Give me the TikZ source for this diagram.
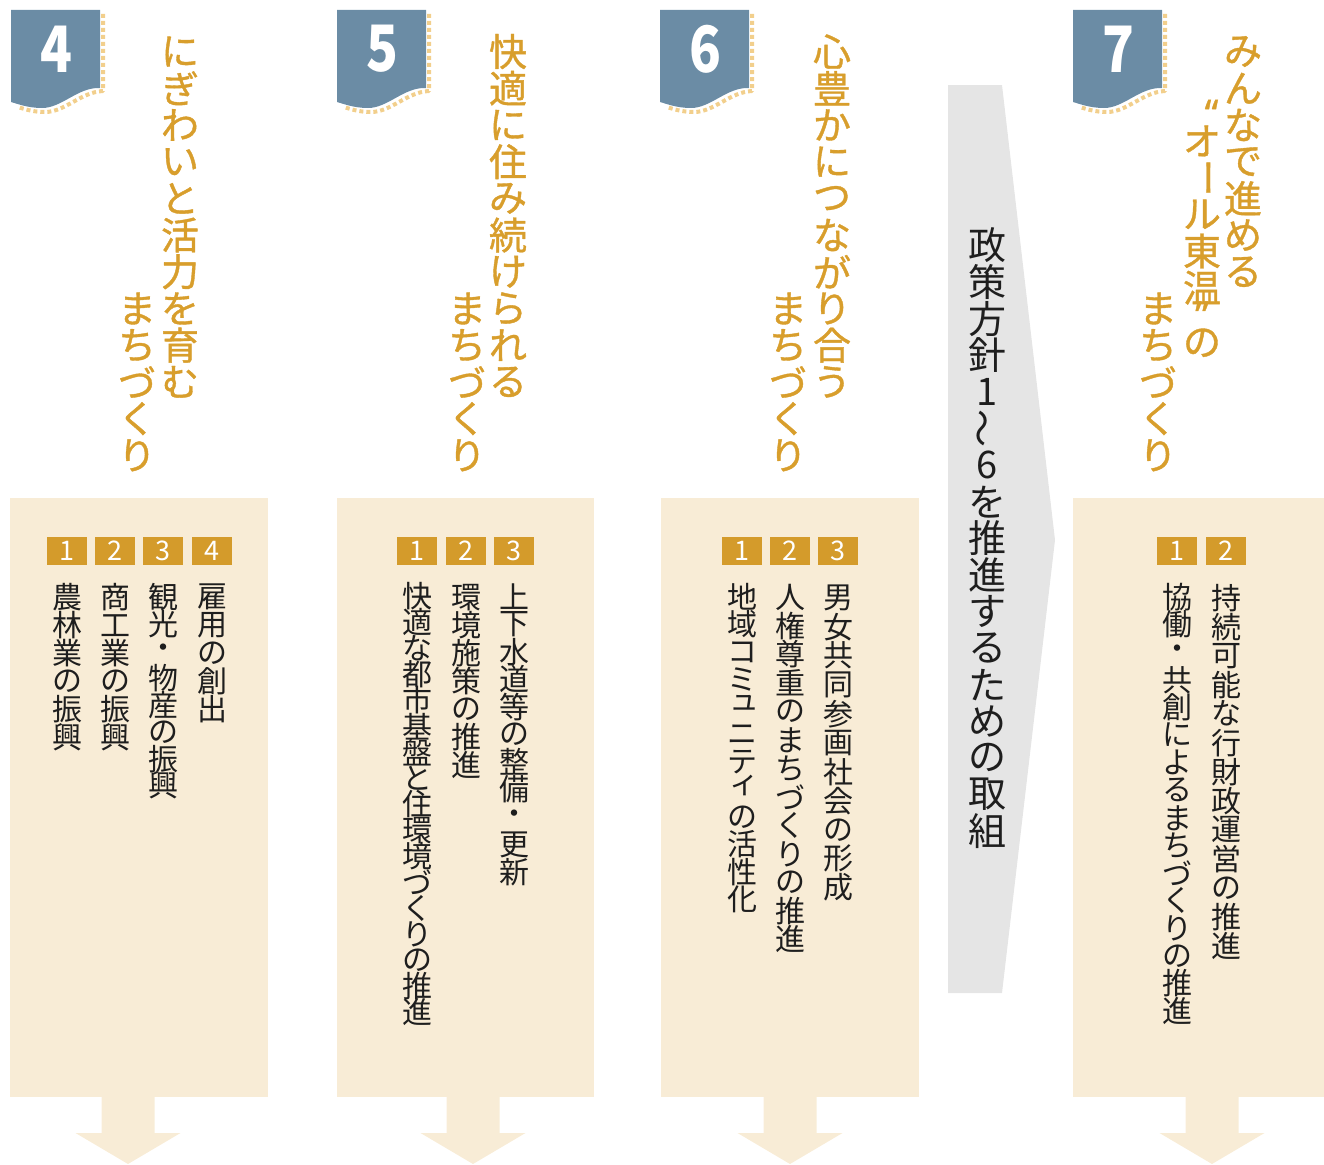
\documentclass[tikz,border=0pt]{standalone}
\usepackage{fontspec}
\usepackage{graphicx}
\setmainfont{Noto Sans CJK JP}
\newfontfamily\titlefont{Noto Sans CJK JP}[FakeBold=1]
\newfontfamily\quotefont{Noto Sans}[FakeBold=1]
\definecolor{tabblue}{HTML}{6B8CA5}
\definecolor{hatchgold}{HTML}{F2CF8C}
\definecolor{titlegold}{HTML}{D89E2C}
\definecolor{panelbeige}{HTML}{F8ECD6}
\definecolor{boxgold}{HTML}{D49B2B}
\definecolor{arrowgray}{HTML}{E5E5E5}
\definecolor{inkblack}{HTML}{1E1E1E}
% 縦書き: 1文字ずつ積む
\makeatletter
\newdimen\vjpstep
\newdimen\vjpwd
\newcommand\vjp[2][28pt]{\vbox{\offinterlineskip\vjpstep=#1\relax\vjpwd=1em\relax\vjp@go#2\relax}}
\def\vjp@go#1{\ifx\relax#1\else\vjp@cell{#1}\expandafter\vjp@go\fi}
\def\vjp@cell#1{\ifx\vjpoq#1\vjp@box{.5\vjpstep}{#1}\else\ifx\vjpcq#1\vjp@box{.5\vjpstep}{#1}\else\vjp@box{\vjpstep}{#1}\fi\fi}
\def\vjp@box#1#2{\hbox to\vjpwd{\hss\vbox to #1{\vss\hbox{#2}\vss}\hss}}
\makeatother
\def\vjpoq{\hspace*{.5em}{\quotefont “}}
\def\vjpcq{{\quotefont ”}}
\def\vjpbar{\rotatebox{-90}{ー}}
\def\vjptl{\rotatebox{90}{～}}
\def\vjpyu{\hspace*{.15em}\raisebox{.12em}[\height][\depth]{ュ}}
\def\vjpi{\hspace*{.15em}\raisebox{.12em}[\height][\depth]{ィ}}

\begin{document}
\begin{tikzpicture}[x=1pt, y=-1pt, line join=round,
  titletext/.style={anchor=north, inner sep=0pt, text=titlegold, font=\titlefont\fontsize{38}{38}\selectfont},
  bodytext/.style={anchor=north, inner sep=0pt, text=inkblack, font=\fontsize{30}{30}\selectfont},
  policytext/.style={anchor=north, inner sep=0pt, text=inkblack, font=\fontsize{38}{38}\selectfont},
  numbox/.style={fill=boxgold, text=white, minimum width=40pt, minimum height=28pt, inner sep=0pt, font=\fontsize{27}{27}\selectfont},
  tabnum/.style={inner sep=0pt, text=white, font=\bfseries\fontsize{64}{64}\selectfont},
  hatch/.style={draw=hatchgold, line width=4pt, dash pattern=on 4pt off 3pt}]
\useasboundingbox (0,0) rectangle (1324,1164);

% --- 番号タブ ---
\foreach \x/\n in {11/4, 337/5, 660/6, 1073/7}{
  \begin{scope}[shift={(\x-11,0)}]
    \draw[hatch] (103,14) -- (103,91) .. controls (81,92) and (65,112) .. (45,112) .. controls (33,112) and (24,109) .. (18,107);
    \fill[tabblue] (11,10) -- (100,10) -- (100,88) .. controls (78,87) and (62,108) .. (42,108) .. controls (28,108) and (18,104) .. (11,102) -- cycle;
    \node[tabnum] (tab\n) at (56,49) {\scalebox{.82}[1]{\n}};
  \end{scope}
}

% --- 見出し ---
\node[titletext] (title4a) at (180,33) {\vjp[36.7pt]{にぎわいと活力を育む}};
\node[titletext] (title4b) at (137,290) {\vjp[36.7pt]{まちづくり}};
\node[titletext] (title5a) at (508,33) {\vjp[36.7pt]{快適に住み続けられる}};
\node[titletext] (title5b) at (467,290) {\vjp[36.7pt]{まちづくり}};
\node[titletext] (title6a) at (832,33) {\vjp[36.7pt]{心豊かにつながり合う}};
\node[titletext] (title6b) at (788,290) {\vjp[36.7pt]{まちづくり}};
\node[titletext] (title7a) at (1243,33) {\vjp[36.7pt]{みんなで進める}};
\node[titletext] (title7b) at (1202,104) {\vjp[36.7pt]{\vjpoq オ\vjpbar ル東温\vjpcq の}};
\node[titletext] (title7c) at (1158,290) {\vjp[36.7pt]{まちづくり}};

% --- 政策方針の矢印 ---
\fill[arrowgray] (948,85) -- (1002,85) -- (1055,540) -- (1002,993) -- (948,993) -- cycle;
\node[policytext] (policy) at (987,227) {\vjp[36.6pt]{政策方針1\vjptl 6を推進するための取組}};

% --- 施策の枠と下向き矢印 ---
\fill[panelbeige] (10,498) rectangle (268,1097);
\fill[panelbeige] (337,498) rectangle (594,1097);
\fill[panelbeige] (661,498) rectangle (919,1097);
\fill[panelbeige] (1073,498) rectangle (1324,1097);
\foreach \c in {128, 473, 790, 1212}
  \fill[panelbeige] (\c-26.5,1097) -- (\c+26.5,1097) -- (\c+26.5,1133) -- (\c+52.5,1133) -- (\c,1164) -- (\c-52.5,1133) -- (\c-26.5,1133) -- cycle;

% --- 番号 ---
\foreach \n/\x in {1/67, 2/115.2, 3/163.4, 4/211.6}
  \node[numbox] (num4\n) at (\x,551) {\n};
\foreach \n/\x in {1/417, 2/465.5, 3/514}
  \node[numbox] (num5\n) at (\x,551) {\n};
\foreach \n/\x in {1/742, 2/790, 3/838}
  \node[numbox] (num6\n) at (\x,551) {\n};
\foreach \n/\x in {1/1177, 2/1226}
  \node[numbox] (num7\n) at (\x,551) {\n};

% --- 施策 ---
\node[bodytext] (item41) at (67,583) {\vjp{農林業の振興}};
\node[bodytext] (item42) at (115,583) {\vjp{商工業の振興}};
\node[bodytext] (item43) at (163,583) {\vjp[27pt]{観光・物産の振興}};
\node[bodytext] (item44) at (212,583) {\vjp{雇用の創出}};
\node[bodytext] (item51) at (417,583) {\vjp[26pt]{快適な都市基盤と住環境づくりの推進}};
\node[bodytext] (item52) at (466,583) {\vjp{環境施策の推進}};
\node[bodytext] (item53) at (514,583) {\vjp[27.5pt]{上下水道等の整備・更新}};
\node[bodytext] (item61) at (742,583) {\vjp[27.5pt]{地域コミ\vjpyu ニテ\vjpi の活性化}};
\node[bodytext] (item62) at (790,583) {\vjp[28.5pt]{人権尊重のまちづくりの推進}};
\node[bodytext] (item63) at (838,583) {\vjp[29pt]{男女共同参画社会の形成}};
\node[bodytext] (item71) at (1177,583) {\vjp[27.6pt]{協働・共創によるまちづくりの推進}};
\node[bodytext] (item72) at (1226,583) {\vjp[29pt]{持続可能な行財政運営の推進}};
\end{tikzpicture}
\end{document}
